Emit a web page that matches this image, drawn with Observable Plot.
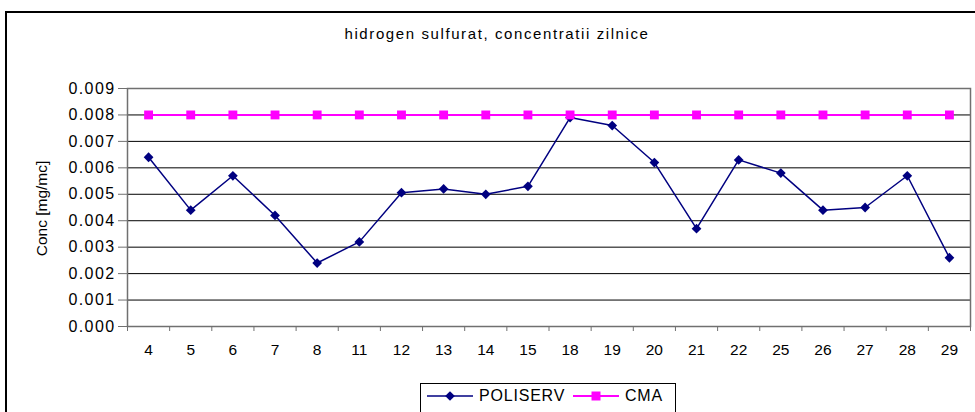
<!DOCTYPE html>
<html>
<head>
<meta charset="utf-8">
<script src="https://cdn.jsdelivr.net/npm/d3@7"></script>
<script src="https://cdn.jsdelivr.net/npm/@observablehq/plot@0.6"></script>
<style>
  html, body { margin: 0; padding: 0; background: #fff; }
  body { width: 975px; height: 412px; overflow: hidden; position: relative; font-family: "Liberation Sans", Arial, sans-serif; }
  #frame { position: absolute; left: 5px; top: 11px; width: 990px; height: 440px; border: 2px solid #000; box-sizing: border-box; }
  #title { position: absolute; top: 25px; left: 497px; transform: translateX(-50%); font-size: 15px; letter-spacing: 1.6px; white-space: nowrap; color: #000; }
  #chart { position: absolute; left: 0; top: 70px; }
  #legend { position: absolute; left: 420px; top: 383px; width: 256px; height: 40px; border: 1px solid #000; box-sizing: border-box; font-size: 16px; letter-spacing: 0.8px; }
  #legend .item { position: absolute; top: 0px; display: flex; align-items: center; height: 24px; }
  #legend svg { display: block; margin-right: 6px; }
  #chart text.ytl { letter-spacing: 1.4px; }
</style>
</head>
<body>
<div id="frame"></div>
<div id="title">hidrogen sulfurat, concentratii zilnice</div>
<div id="chart"></div>
<div id="legend"></div>
<script>
const categories = ["4","5","6","7","8","11","12","13","14","15","18","19","20","21","22","25","26","27","28","29"];
const poliserv = [0.0064,0.0044,0.0057,0.0042,0.0024,0.0032,0.00506,0.0052,0.0050,0.0053,0.0079,0.0076,0.0062,0.0037,0.0063,0.0058,0.0044,0.0045,0.0057,0.0026];
const cma = [0.008,0.008,0.008,0.008,0.008,0.008,0.008,0.008,0.008,0.008,0.008,0.008,0.008,0.008,0.008,0.008,0.008,0.008,0.008,0.008];
const yTicks = [0,0.001,0.002,0.003,0.004,0.005,0.006,0.007,0.008,0.009];
const seriesNames = ["POLISERV", "CMA"];
const colors = ["#000080", "#FF00FF"];

const polData = categories.map((c, i) => ({i: i + 0.5, cat: c, v: poliserv[i]}));
const cmaData = categories.map((c, i) => ({i: i + 0.5, cat: c, v: cma[i]}));
const bounds = d3.range(categories.length + 1);

const plot = Plot.plot({
  width: 975,
  height: 290,
  marginLeft: 127,
  marginRight: 5,
  marginTop: 18,
  marginBottom: 34,
  style: {fontFamily: "'Liberation Sans', Arial, sans-serif", fontSize: "15px", color: "#000", background: "transparent"},
  x: {type: "linear", domain: [0, categories.length], axis: null},
  y: {type: "linear", domain: [0, 0.009], axis: null},
  marks: [
    Plot.ruleY(yTicks, {stroke: "#000", strokeWidth: 1}),
    Plot.frame({stroke: "#707070", strokeWidth: 1.5}),
    Plot.axisY(yTicks, {tickSize: 9, tickPadding: 3, tickFormat: d => d.toFixed(3), label: null, stroke: "#707070", fontSize: 16}),
    Plot.axisX(bounds, {tickSize: 5, tickFormat: () => "", label: null, stroke: "#707070"}),
    Plot.text(polData, {x: "i", y: () => 0, text: "cat", dy: 24, fontSize: 15.5}),
    Plot.text(["Conc [mg/mc]"], {frameAnchor: "left", text: d => d, rotate: -90, dx: -85, dy: 1, textAnchor: "middle", fontSize: 15.5}),
    Plot.line(polData, {x: "i", y: "v", stroke: colors[0], strokeWidth: 1.5}),
    Plot.dot(polData, {x: "i", y: "v", symbol: "diamond2", r: 4.4, fill: colors[0], stroke: "none"}),
    Plot.line(cmaData, {x: "i", y: "v", stroke: colors[1], strokeWidth: 2}),
    Plot.dot(cmaData, {x: "i", y: "v", symbol: "square", r: 5, fill: colors[1], stroke: "none"})
  ]
});
document.getElementById("chart").appendChild(plot);
plot.querySelectorAll("g[aria-label='y-axis tick label'] text").forEach(t => t.classList.add("ytl"));

// Legend
const legend = document.getElementById("legend");
const legendPos = [6, 152];
seriesNames.forEach((name, k) => {
  const item = document.createElement("div");
  item.className = "item";
  item.style.left = legendPos[k] + "px";
  const sw = d3.create("svg").attr("width", 46).attr("height", 24);
  sw.append("line").attr("x1", 0).attr("x2", 46).attr("y1", 12).attr("y2", 12).attr("stroke", colors[k]).attr("stroke-width", k === 0 ? 1.5 : 2);
  if (k === 0) sw.append("path").attr("d", d3.symbol(d3.symbolDiamond2, 60)()).attr("transform", "translate(23,12)").attr("fill", colors[k]);
  else sw.append("path").attr("d", d3.symbol(d3.symbolSquare, 81)()).attr("transform", "translate(23,12)").attr("fill", colors[k]);
  item.appendChild(sw.node());
  const t = document.createElement("span");
  t.textContent = name;
  item.appendChild(t);
  legend.appendChild(item);
});
</script>
</body>
</html>
